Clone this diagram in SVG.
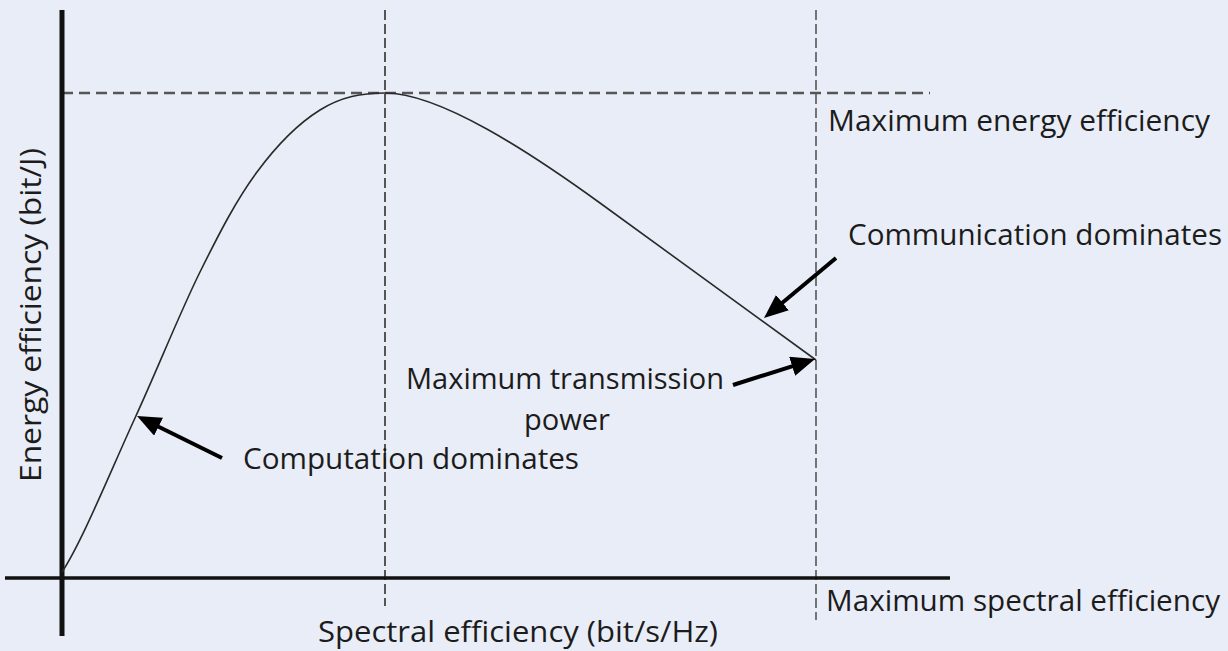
<svg xmlns="http://www.w3.org/2000/svg" width="1228" height="651" viewBox="0 0 1228 651">
  <defs>
    <style>
      .lbl { font-family: "Open Sans", "Noto Sans", "Liberation Sans", sans-serif; font-size: 30px; fill: #1c1c1c; }
      .axis { stroke: #111; fill: none; }
      .guide { stroke: #555; fill: none; }
      .arrow { stroke: #000; stroke-width: 4; fill: none; marker-end: url(#head); }
    </style>
    <marker id="head" viewBox="0 0 6 5" markerWidth="6" markerHeight="5" refX="4.5" refY="2.5" orient="auto" markerUnits="strokeWidth">
      <path d="M0,0 L6,2.5 L0,5 Z" fill="#000"/>
    </marker>
  </defs>

  <rect width="1228" height="651" fill="#e9edf7"/>

  <!-- reference guides -->
  <g id="guides">
    <line class="guide" x1="62" y1="93" x2="930" y2="93" stroke-width="2.6" stroke-dasharray="11 6"/>
    <line class="guide" x1="385" y1="10" x2="385" y2="606" stroke-width="2" stroke-dasharray="10 4"/>
    <line class="guide" x1="816" y1="10" x2="816" y2="620" stroke-width="1.6" stroke-dasharray="10 4"/>
  </g>

  <!-- axes -->
  <g id="axes">
    <line class="axis" x1="62" y1="10" x2="62" y2="636" stroke-width="5"/>
    <line class="axis" x1="5" y1="578" x2="950" y2="578" stroke-width="3.5"/>
  </g>

  <!-- energy efficiency vs spectral efficiency curve -->
  <g id="curve">
    <path d="M62,572 C82,542 112,468 135,418 C158,368 179.7,313 200,272 C220.3,231 237,199 257,172 C277,145 298.7,123.2 320,110 C341.3,96.8 361.7,93 385,93 C440,93 531,153 600,203 L816,360" fill="none" stroke="#2a2a2a" stroke-width="1.6"/>
  </g>

  <!-- callout arrows -->
  <g id="connectors">
    <line class="arrow" x1="222" y1="458" x2="142.4" y2="418.7"/>
    <line class="arrow" x1="836" y1="258" x2="768.6" y2="314.2"/>
    <line class="arrow" x1="733" y1="385" x2="809.3" y2="360.8"/>
  </g>

  <!-- labels -->
  <g id="label-max-ee">
    <text class="lbl" x="828" y="131" textLength="382" lengthAdjust="spacingAndGlyphs">Maximum energy efficiency</text>
  </g>
  <g id="label-communication">
    <text class="lbl" x="848" y="245" textLength="374" lengthAdjust="spacingAndGlyphs">Communication dominates</text>
  </g>
  <g id="label-max-power">
    <text class="lbl" x="406" y="389" textLength="318" lengthAdjust="spacingAndGlyphs">Maximum transmission</text>
    <text class="lbl" x="567" y="430" text-anchor="middle" textLength="86" lengthAdjust="spacingAndGlyphs">power</text>
  </g>
  <g id="label-computation">
    <text class="lbl" x="243" y="469" textLength="336" lengthAdjust="spacingAndGlyphs">Computation dominates</text>
  </g>
  <g id="label-max-se">
    <text class="lbl" x="826" y="611" textLength="394" lengthAdjust="spacingAndGlyphs">Maximum spectral efficiency</text>
  </g>
  <g id="label-x-axis">
    <text class="lbl" x="318" y="642" textLength="400" lengthAdjust="spacingAndGlyphs">Spectral efficiency (bit/s/Hz)</text>
  </g>
  <g id="label-y-axis">
    <text class="lbl" x="0" y="0" transform="translate(41,482) rotate(-90)" textLength="334" lengthAdjust="spacingAndGlyphs">Energy efficiency (bit/J)</text>
  </g>
</svg>
